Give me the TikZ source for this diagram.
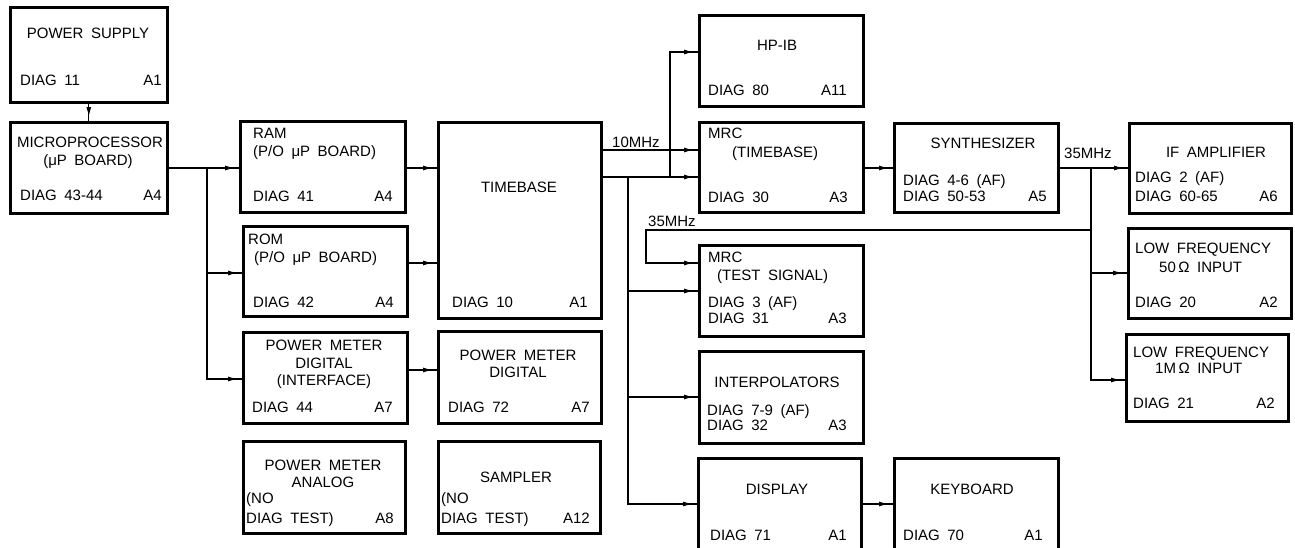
\documentclass[tikz,border=0pt]{standalone}
\usepackage{fontspec}
\setmainfont{Liberation Sans}[WordSpace=1.8]
\usepackage{tikz}
\usetikzlibrary{arrows.meta,positioning,decorations.markings}

\begin{document}
\begin{tikzpicture}[x=1pt,y=-1pt,
    blk/.style={draw,line width=2.6pt,rectangle,inner sep=0pt,anchor=north west},
    txt/.style={inner sep=0pt,font=\fontsize{15}{18}\selectfont},
    wire/.style={line width=1.3pt},
    feed/.style={wire,postaction={decorate},
      decoration={markings,mark=at position -4pt with {\arrow{Latex[length=10pt,width=5pt]}}}}]
  \useasboundingbox (0,0) rectangle (1295,547);
  % processor column
  \node[blk,minimum width=157pt,minimum height=95pt] (psu) at (9,6) {};
  \node[blk,minimum width=157pt,minimum height=91pt] (mpu) at (9,121) {};
  \node[txt,anchor=base] (psu-t) at (88,38) {POWER SUPPLY};
  \node[txt,anchor=base west] (psu-d) at (20,85) {DIAG 11};
  \node[txt,anchor=base east] (psu-a) at (162,85) {A1};
  \node[txt,anchor=base] (mpu-t) at (90,147) {MICROPROCESSOR};
  \node[txt,anchor=base] (mpu-s) at (88,165) {(μP BOARD)};
  \node[txt,anchor=base west] (mpu-d) at (20,200) {DIAG 43-44};
  \node[txt,anchor=base east] (mpu-a) at (162,200) {A4};
  % memory and power meter boards
  \node[blk,minimum width=165pt,minimum height=91pt] (ram) at (239,120) {};
  \node[blk,minimum width=164pt,minimum height=90pt] (rom) at (242,225) {};
  \node[blk,minimum width=164pt,minimum height=91pt] (pmdi) at (242,331) {};
  \node[blk,minimum width=162pt,minimum height=92pt] (pma) at (242,440) {};
  \node[txt,anchor=base west] (ram-t) at (253,138) {RAM};
  \node[txt,anchor=base west] (ram-s) at (253,156) {(P/O μP BOARD)};
  \node[txt,anchor=base west] (ram-d) at (253,201) {DIAG 41};
  \node[txt,anchor=base east] (ram-a) at (393,201) {A4};
  \node[txt,anchor=base west] (rom-t) at (248,244) {ROM};
  \node[txt,anchor=base west] (rom-s) at (254,262) {(P/O μP BOARD)};
  \node[txt,anchor=base west] (rom-d) at (253,307) {DIAG 42};
  \node[txt,anchor=base east] (rom-a) at (394,307) {A4};
  \node[txt,anchor=base] (pmdi-t) at (324,350) {POWER METER};
  \node[txt,anchor=base] (pmdi-s) at (324,368) {DIGITAL};
  \node[txt,anchor=base] (pmdi-u) at (324,385) {(INTERFACE)};
  \node[txt,anchor=base west] (pmdi-d) at (252,412) {DIAG 44};
  \node[txt,anchor=base east] (pmdi-a) at (393,412) {A7};
  \node[txt,anchor=base] (pma-t) at (323,470) {POWER METER};
  \node[txt,anchor=base] (pma-s) at (323,487) {ANALOG};
  \node[txt,anchor=base west] (pma-n) at (246,503) {(NO};
  \node[txt,anchor=base west] (pma-d) at (246,523) {DIAG TEST)};
  \node[txt,anchor=base east] (pma-a) at (394,523) {A8};
  % timebase column
  \node[blk,minimum width=163pt,minimum height=196pt] (tb) at (437,121) {};
  \node[blk,minimum width=163pt,minimum height=92pt] (pmd) at (437,330) {};
  \node[blk,minimum width=162pt,minimum height=92pt] (smp) at (437,440) {};
  \node[txt,anchor=base] (tb-t) at (519,192) {TIMEBASE};
  \node[txt,anchor=base west] (tb-d) at (452,307) {DIAG 10};
  \node[txt,anchor=base east] (tb-a) at (588,307) {A1};
  \node[txt,anchor=base] (pmd-t) at (518,360) {POWER METER};
  \node[txt,anchor=base] (pmd-s) at (518,377) {DIGITAL};
  \node[txt,anchor=base west] (pmd-d) at (448,412) {DIAG 72};
  \node[txt,anchor=base east] (pmd-a) at (590,412) {A7};
  \node[txt,anchor=base] (smp-t) at (516,482) {SAMPLER};
  \node[txt,anchor=base west] (smp-n) at (441,503) {(NO};
  \node[txt,anchor=base west] (smp-d) at (441,523) {DIAG TEST)};
  \node[txt,anchor=base east] (smp-a) at (590,523) {A12};
  % counter column
  \node[blk,minimum width=164pt,minimum height=91pt] (hpib) at (698,14) {};
  \node[blk,minimum width=164pt,minimum height=90pt] (mrct) at (698,121) {};
  \node[blk,minimum width=164pt,minimum height=91pt] (mrcs) at (698,244) {};
  \node[blk,minimum width=164pt,minimum height=92pt] (intp) at (698,350) {};
  \node[blk,minimum width=163pt,minimum height=110pt] (disp) at (697,457) {};
  \node[txt,anchor=base] (hpib-t) at (777,50) {HP-IB};
  \node[txt,anchor=base west] (hpib-d) at (708,95) {DIAG 80};
  \node[txt,anchor=base east] (hpib-a) at (847,95) {A11};
  \node[txt,anchor=base west] (mrct-t) at (708,138) {MRC};
  \node[txt,anchor=base west] (mrct-s) at (732,157) {(TIMEBASE)};
  \node[txt,anchor=base west] (mrct-d) at (708,202) {DIAG 30};
  \node[txt,anchor=base east] (mrct-a) at (848,202) {A3};
  \node[txt,anchor=base west] (mrcs-t) at (708,262) {MRC};
  \node[txt,anchor=base west] (mrcs-s) at (717,280) {(TEST SIGNAL)};
  \node[txt,anchor=base west] (mrcs-d) at (708,307) {DIAG 3 (AF)};
  \node[txt,anchor=base west] (mrcs-e) at (708,323) {DIAG 31};
  \node[txt,anchor=base east] (mrcs-a) at (847,323) {A3};
  \node[txt,anchor=base] (intp-t) at (777,387) {INTERPOLATORS};
  \node[txt,anchor=base west] (intp-d) at (707,415) {DIAG 7-9 (AF)};
  \node[txt,anchor=base west] (intp-e) at (707,430) {DIAG 32};
  \node[txt,anchor=base east] (intp-a) at (847,430) {A3};
  \node[txt,anchor=base] (disp-t) at (777,494) {DISPLAY};
  \node[txt,anchor=base west] (disp-d) at (710,540) {DIAG 71};
  \node[txt,anchor=base east] (disp-a) at (847,540) {A1};
  % synthesizer and keyboard
  \node[blk,minimum width=164pt,minimum height=89pt] (syn) at (893,122) {};
  \node[blk,minimum width=164pt,minimum height=110pt] (kbd) at (893,457) {};
  \node[txt,anchor=base] (syn-t) at (983,148) {SYNTHESIZER};
  \node[txt,anchor=base west] (syn-d) at (903,185) {DIAG 4-6 (AF)};
  \node[txt,anchor=base west] (syn-e) at (903,201) {DIAG 50-53};
  \node[txt,anchor=base east] (syn-a) at (1047,201) {A5};
  \node[txt,anchor=base] (kbd-t) at (972,494) {KEYBOARD};
  \node[txt,anchor=base west] (kbd-d) at (903,540) {DIAG 70};
  \node[txt,anchor=base east] (kbd-a) at (1043,540) {A1};
  % input channels
  \node[blk,minimum width=162pt,minimum height=90pt] (ifa) at (1128,122) {};
  \node[blk,minimum width=163pt,minimum height=90pt] (lf50) at (1127,227) {};
  \node[blk,minimum width=162pt,minimum height=87pt] (lf1m) at (1125,333) {};
  \node[txt,anchor=base] (ifa-t) at (1216,157) {IF AMPLIFIER};
  \node[txt,anchor=base west] (ifa-d) at (1135,182) {DIAG 2 (AF)};
  \node[txt,anchor=base west] (ifa-e) at (1135,201) {DIAG 60-65};
  \node[txt,anchor=base east] (ifa-a) at (1278,201) {A6};
  \node[txt,anchor=base west] (lf50-t) at (1135,253) {LOW FREQUENCY};
  \node[txt,anchor=base west] (lf50-s) at (1159,272) {50\,Ω INPUT};
  \node[txt,anchor=base west] (lf50-d) at (1135,307) {DIAG 20};
  \node[txt,anchor=base east] (lf50-a) at (1278,307) {A2};
  \node[txt,anchor=base west] (lf1m-t) at (1133,357) {LOW FREQUENCY};
  \node[txt,anchor=base west] (lf1m-s) at (1155,373) {1M\,Ω INPUT};
  \node[txt,anchor=base west] (lf1m-d) at (1133,408) {DIAG 21};
  \node[txt,anchor=base east] (lf1m-a) at (1275,408) {A2};
  % bends and branch points
  \coordinate (bA) at (207,168);
  \coordinate (bB) at (207,273);
  \coordinate (bC) at (207,379);
  \coordinate (rt) at (420,263);
  \coordinate (it) at (420,370);
  \coordinate (fq) at (620,150);
  \coordinate (hb) at (670,177);
  \coordinate (hu) at (670,52);
  \coordinate (cb) at (628,177);
  \coordinate (c1) at (628,291);
  \coordinate (c2) at (628,397);
  \coordinate (c3) at (628,504);
  \coordinate (sb) at (1091,168);
  \coordinate (s1) at (1091,230);
  \coordinate (s2) at (1091,273);
  \coordinate (s3) at (1091,380);
  \coordinate (tl) at (646,230);
  \coordinate (ts) at (646,263);
  % connectors
  \draw[feed] (psu) -- (mpu);
  \draw[wire] (mpu.east |- bA) -- (bA);
  \draw[feed] (bA) -- (ram.west |- bA);
  \draw[feed] (bA) |- (pmdi.west |- bC);
  \draw[feed] (bB) -- (rom.west |- bB);
  \draw[feed] (ram.east |- bA) -- (tb.west |- bA);
  \draw[feed] (rom.east |- rt) -- (tb.west |- rt);
  \draw[feed] (pmdi.east |- it) -- (pmd.west |- it);
  \draw[feed] (tb.east |- fq) -- (mrct.west |- fq);
  \draw[feed] (tb.east |- hb) -- (mrct.west |- hb);
  \draw[feed] (hb) |- (hpib.west |- hu);
  \draw[feed] (cb) |- (disp.west |- c3);
  \draw[feed] (c1) -- (mrcs.west |- c1);
  \draw[feed] (c2) -- (intp.west |- c2);
  \draw[feed] (disp.east |- c3) -- (kbd.west |- c3);
  \draw[feed] (mrct.east |- bA) -- (syn.west |- bA);
  \draw[feed] (syn.east |- sb) -- (ifa.west |- sb);
  \draw[feed] (sb) |- (lf1m.west |- s3);
  \draw[feed] (s2) -- (lf50.west |- s2);
  \draw[feed] (s1) -- (tl) |- (mrcs.west |- ts);
  % frequency labels
  \node[txt,anchor=base west] (f10) at (612,147) {10MHz};
  \node[txt,anchor=base west] (f35a) at (648,226) {35MHz};
  \node[txt,anchor=base west] (f35b) at (1064,158) {35MHz};
\end{tikzpicture}
\end{document}
